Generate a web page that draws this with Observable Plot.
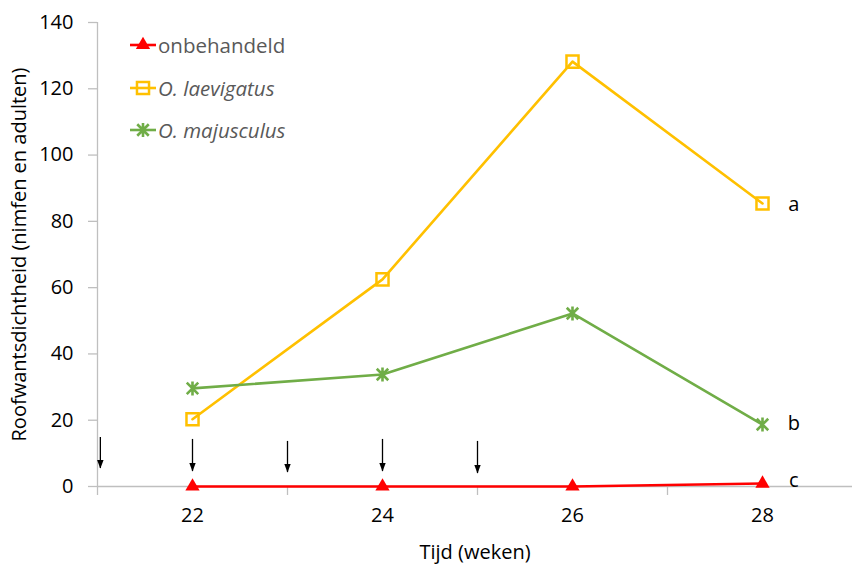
<!DOCTYPE html>
<html><head><meta charset="utf-8">
<script src="https://cdn.jsdelivr.net/npm/d3@7"></script>
<script src="https://cdn.jsdelivr.net/npm/@observablehq/plot@0.6"></script>
<style>
body{margin:0;background:#fff;}
#chart{position:relative;width:852px;height:564px;font-family:"Open Sans",sans-serif;}
#legend{position:absolute;left:128px;top:24px;color:#595959;font-size:20.5px;}
.row{display:flex;align-items:center;height:42.5px;white-space:nowrap;}
.row svg{display:block;margin-right:1px;}
</style></head><body><div id="chart"></div>
<script>
const weeks = [22, 24, 26, 28];
const seriesNames = ["onbehandeld", "O. laevigatus", "O. majusculus"];
const onbehandeld = [0, 0, 0, 0.9];
const laevigatus = [20.3, 62.5, 128.2, 85.4];
const majusculus = [29.6, 33.8, 52.2, 18.7];
const colors = ["#FF0000", "#FFC000", "#70AD47"];
const yTicks = [0, 20, 40, 60, 80, 100, 120, 140];
const xTickMarks = [21, 23, 25, 27, 29];
const xTickLabels = [22, 24, 26, 28];
const arrowWeeks = [21.03, 22, 23, 24, 25];
const arrowTop = [14.8, 14.2, 13.6, 14.2, 13.6];
const arrowBottom = [5.4, 4.5, 4.2, 4.5, 3.9];
const letters = ["a", "b", "c"];
const letterY = [85.2, 18.9, 1.8];
const letterWeek = 28.33;

const valuesBySeries = [onbehandeld, laevigatus, majusculus];
const data = seriesNames.map((s, i) => weeks.map((w, j) => ({series: s, week: w, value: valuesBySeries[i][j]})));
const arrows = arrowWeeks.map((w, i) => ({week: w, top: arrowTop[i], bottom: arrowBottom[i]}));
const letterData = letters.map((l, i) => ({letter: l, y: letterY[i]}));

// Excel-style star marker: an "x" with a vertical bar
const starSymbol = {
  draw(ctx, size) {
    const r = Math.sqrt(size / Math.PI);
    const d = r * 0.82;
    ctx.moveTo(0, -r); ctx.lineTo(0, r);
    ctx.moveTo(-d, -d); ctx.lineTo(d, d);
    ctx.moveTo(-d, d); ctx.lineTo(d, -d);
  }
};
// filled arrowhead whose tip sits on the point
const headSymbol = {
  draw(ctx) {
    ctx.moveTo(0, 0); ctx.lineTo(-3.2, -8.5); ctx.lineTo(3.2, -8.5); ctx.closePath();
  }
};

const dotStyles = [
  {symbol: "triangle", fill: colors[0], stroke: "none", r: 5.3},
  {symbol: "square", fill: "none", stroke: colors[1], strokeWidth: 2.5, r: 6.8},
  {symbol: starSymbol, fill: "none", stroke: colors[2], strokeWidth: 2.6, r: 7}
];

const marks = [
  Plot.ruleY([0], {stroke: "#BFBFBF", strokeWidth: 1.3}),
  Plot.ruleX([21], {stroke: "#BFBFBF", strokeWidth: 1.3}),
  Plot.axisY({ticks: yTicks, tickSize: 9, tickPadding: 15, stroke: "#BFBFBF", strokeWidth: 1.3, fill: "#000",
    label: "Roofwantsdichtheid (nimfen en adulten)", labelAnchor: "center", labelOffset: 86, labelArrow: "none"}),
  Plot.axisX({ticks: xTickMarks, tickSize: 9, stroke: "#BFBFBF", strokeWidth: 1.3, tickFormat: () => "", label: null}),
  Plot.axisX({ticks: xTickLabels, tickSize: 0, tickPadding: 21, fill: "#000",
    label: "Tijd (weken)", labelAnchor: "center", labelOffset: 72, labelArrow: "none"}),
  Plot.ruleX(arrows, {x: "week", y1: "top", y2: "bottom", stroke: "#000", strokeWidth: 1.3}),
  Plot.dot(arrows, {x: "week", y: "bottom", symbol: headSymbol, fill: "#000", stroke: "none", r: 3})
];
[1, 2, 0].forEach(i => {
  marks.push(Plot.line(data[i], {x: "week", y: "value", stroke: colors[i], strokeWidth: 2.6}));
  marks.push(Plot.dot(data[i], {x: "week", y: "value", ...dotStyles[i]}));
});
marks.push(Plot.text(letterData, {x: () => letterWeek, y: "y", text: "letter", fill: "#000", fontSize: 20}));

const plot = Plot.plot({
  width: 852, height: 564,
  marginLeft: 97, marginRight: 0, marginTop: 22, marginBottom: 78,
  style: {fontFamily: '"Open Sans", sans-serif', fontSize: "20px", color: "#000", background: "#fff", overflow: "hidden"},
  x: {domain: [21, 29], range: [97, 857]},
  y: {domain: [0, 140], range: [486, 22]},
  marks
});
const chart = document.getElementById("chart");
chart.appendChild(plot);

const legend = document.createElement("div");
legend.id = "legend";
seriesNames.forEach((name, i) => {
  const row = document.createElement("div");
  row.className = "row";
  const svg = d3.create("svg").attr("width", 29).attr("height", 20);
  svg.append("line").attr("x1", 2).attr("x2", 28).attr("y1", 10).attr("y2", 10).attr("stroke", colors[i]).attr("stroke-width", 2.6);
  const st = dotStyles[i];
  const sym = {triangle: d3.symbolTriangle, square: d3.symbolSquare}[st.symbol] || st.symbol;
  svg.append("path").attr("transform", "translate(15,10)")
    .attr("d", d3.symbol(sym, Math.PI * st.r * st.r)())
    .attr("fill", st.fill).attr("stroke", st.stroke).attr("stroke-width", st.strokeWidth || 0);
  row.appendChild(svg.node());
  const span = document.createElement("span");
  span.textContent = name;
  if (i > 0) span.style.fontStyle = "italic";
  row.appendChild(span);
  legend.appendChild(row);
});
chart.appendChild(legend);
</script>
</body></html>
